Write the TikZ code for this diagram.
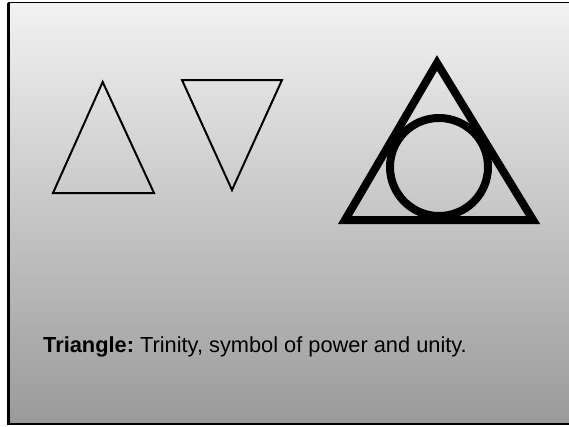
\documentclass[tikz,border=0pt]{standalone}
\usepackage{fontspec}
\setmainfont{Liberation Sans}
\definecolor{slidetop}{HTML}{F2F2F2}
\definecolor{slidebottom}{HTML}{9A9A9A}
\frenchspacing
\begin{document}
\begin{tikzpicture}[
  x=1pt, y=-1pt,
  thin sign/.style={draw,line width=2pt,line join=miter},
  bold sign/.style={draw,line width=8pt,line join=miter},
  caption/.style={anchor=base west,inner sep=0pt,font=\fontsize{21.8}{26}\selectfont}
]
  \useasboundingbox (0,0) rectangle (569,426);
  \fill[white] (0,0) rectangle (569,426);

  % slide background and frame
  \shade[top color=slidetop,bottom color=slidebottom] (9,2.5) rectangle (569,424);
  \draw[line width=1.5pt] (569,2.5) -- (9,2.5) -- (9,424) -- (569,424);
  \draw[line width=3pt] (8.5,2.5) -- (8.5,424.7);

  % the three signs
  \draw[thin sign] (102.7,82) -- (154,193) -- (53,193) -- cycle;
  \draw[thin sign] (182,80) -- (282,80) -- (232,190) -- cycle;
  \draw[bold sign] (437,63) -- (533,220) -- (345,220) -- cycle;
  \draw[bold sign] (439,167) circle [radius=49pt];

  \node[caption] (caption) at (43,352)
    {\textbf{Triangle:} Trinity, symbol of power and unity.};
\end{tikzpicture}
\end{document}
